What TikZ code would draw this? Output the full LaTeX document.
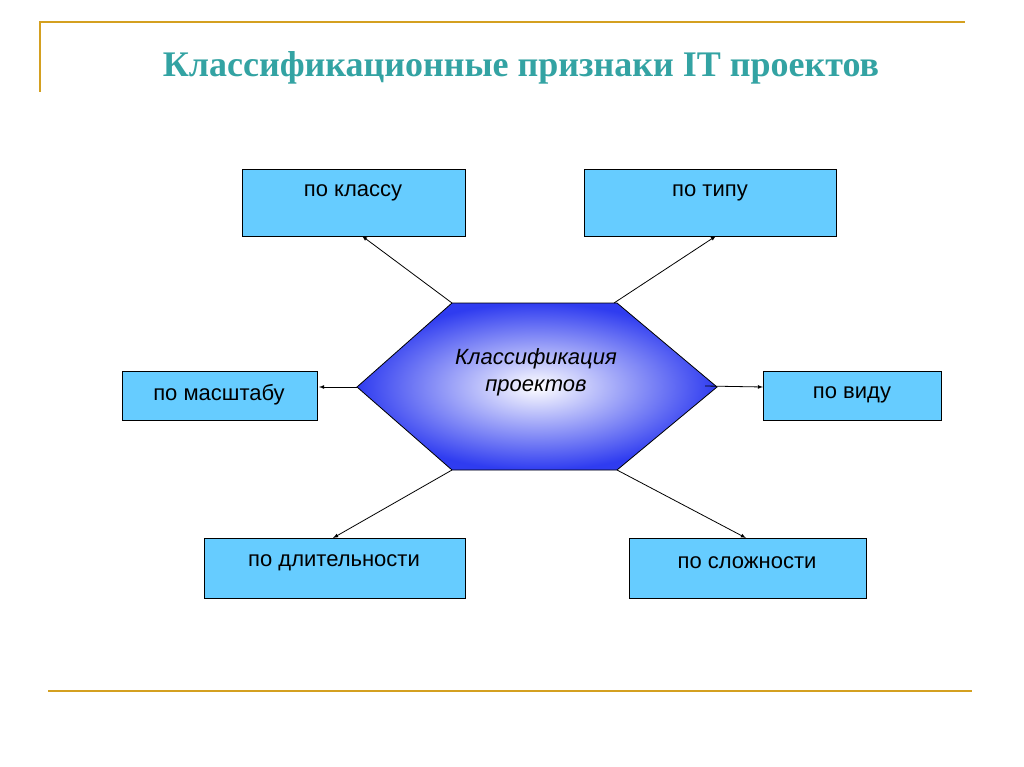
\documentclass[tikz,border=0pt]{standalone}
\usepackage{fontspec}
\setmainfont{Liberation Sans}
\newfontfamily\titlefont{Liberation Serif}
\begin{document}
\begin{tikzpicture}[x=1pt,y=-1pt,
  box/.style={draw=black,fill=boxblue,line width=0.8pt},
  lbl/.style={font=\fontsize{22}{26}\selectfont},
  arr/.style={-latex,line width=0.8pt},
  rule/.style={draw=gold,line width=1.5pt}]
\definecolor{boxblue}{HTML}{66CCFF}
\definecolor{gold}{HTML}{D4A020}
\definecolor{teal1}{HTML}{33A3A3}
\definecolor{hexblue}{HTML}{2F3CF0}
\useasboundingbox (0,0) rectangle (1024,767);
\fill[white] (0,0) rectangle (1024,767);
\draw[rule] (40,92) -- (40,22) -- (965,22);
\draw[rule] (48,691) -- (972,691);
\node[font=\titlefont\bfseries\fontsize{36}{40}\selectfont,text=teal1] (title) at (521,68) {Классификационные признаки IT проектов};
\draw[box] (242,169) rectangle (465,236); \node[lbl] (k) at (353,193) {по классу};
\draw[box] (584,169) rectangle (836,236); \node[lbl] (t) at (710,193) {по типу};
\draw[box] (122,371) rectangle (317,420); \node[lbl] (m) at (219,395) {по масштабу};
\draw[box] (763,371) rectangle (941,420); \node[lbl] (v) at (852,395) {по виду};
\draw[box] (204,538) rectangle (465,598); \node[lbl] (d) at (334,563) {по длительности};
\draw[box] (629,538) rectangle (866,598); \node[lbl] (s) at (747,563) {по сложности};
\shade[inner color=white,outer color=hexblue,draw=black,line width=0.8pt]
  (357,387) -- (452,303) -- (617,303) -- (717,387) -- (617,470) -- (452,470) -- cycle;
\node[lbl,font=\itshape\fontsize{22}{27}\selectfont,align=center] (c) at (536,372) {Классификация\\проектов};
\coordinate (h1) at (452,303); \coordinate (h2) at (614,303);
\coordinate (h3) at (357,387); \coordinate (h4) at (705,386);
\coordinate (h5) at (452,470); \coordinate (h6) at (617,470);
\coordinate (e1) at (362,236); \coordinate (e2) at (716,236);
\coordinate (e3) at (319,387); \coordinate (e4) at (763,387);
\coordinate (e5) at (333,538); \coordinate (e6) at (746,538);
\draw[arr] (h1) -- (e1); \draw[arr] (h2) -- (e2);
\draw[arr] (h3) -- (e3); \draw[arr] (h4) -- (e4);
\draw[arr] (h5) -- (e5); \draw[arr] (h6) -- (e6);
\end{tikzpicture}
\end{document}
